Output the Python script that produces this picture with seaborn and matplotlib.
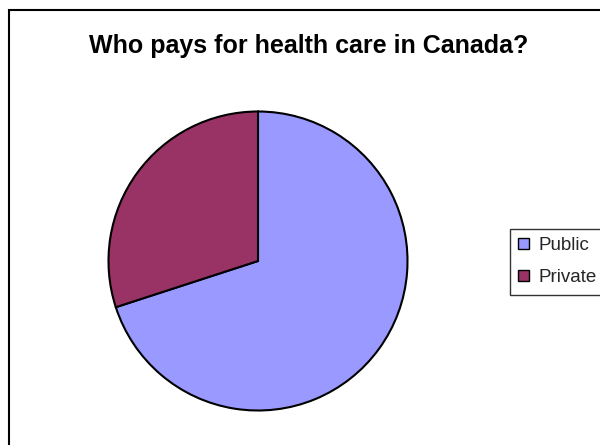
import matplotlib
matplotlib.use("Agg")
import matplotlib.pyplot as plt
import seaborn as sns
from matplotlib.patches import Rectangle, Patch

categories = ["Public", "Private"]
shares = [70, 30]
colors = ["#9999FF", "#993366"]
title = "Who pays for health care in Canada?"

sns.set_theme(style="white")
plt.rcParams["font.family"] = ["Liberation Sans", "DejaVu Sans"]

W, H = 600, 445
fig = plt.figure(figsize=(W / 100, H / 100), dpi=100)
fig.patch.set_facecolor("white")

# chart frame (cut off at right/bottom like the reference)
fig.patches.append(Rectangle((9 / W, -0.1), 1.2, (H - 10) / H + 0.1,
                             transform=fig.transFigure, fill=False,
                             edgecolor="black", linewidth=1.5))

cx, cy, r = 258, 261, 151
ax = fig.add_axes([(cx - r) / W, (H - cy - r) / H, 2 * r / W, 2 * r / H])
ax.pie(shares, colors=colors, startangle=90, counterclock=False,
       wedgeprops=dict(edgecolor="black", linewidth=1.5))
ax.set_xlim(-1.01, 1.01)
ax.set_ylim(-1.01, 1.01)
ax.set_aspect("equal")
ax.axis("off")

fig.text(309 / W, 1 - 46 / H, title, ha="center", va="center",
         fontsize=18, fontweight="bold", color="black")

handles = [Patch(facecolor=c, edgecolor="black", linewidth=1) for c in colors]
leg = fig.legend(handles, categories, loc="upper left",
                 bbox_to_anchor=(510 / W, 1 - 229 / H),
                 frameon=True, fancybox=False, fontsize=13.5,
                 handlelength=0.55, handleheight=0.55, handletextpad=0.5,
                 labelspacing=0.8, borderpad=0.45, borderaxespad=0)
leg.get_frame().set_edgecolor("black")
leg.get_frame().set_linewidth(1.0)

fig.savefig("out.png", dpi=100, facecolor="white")
